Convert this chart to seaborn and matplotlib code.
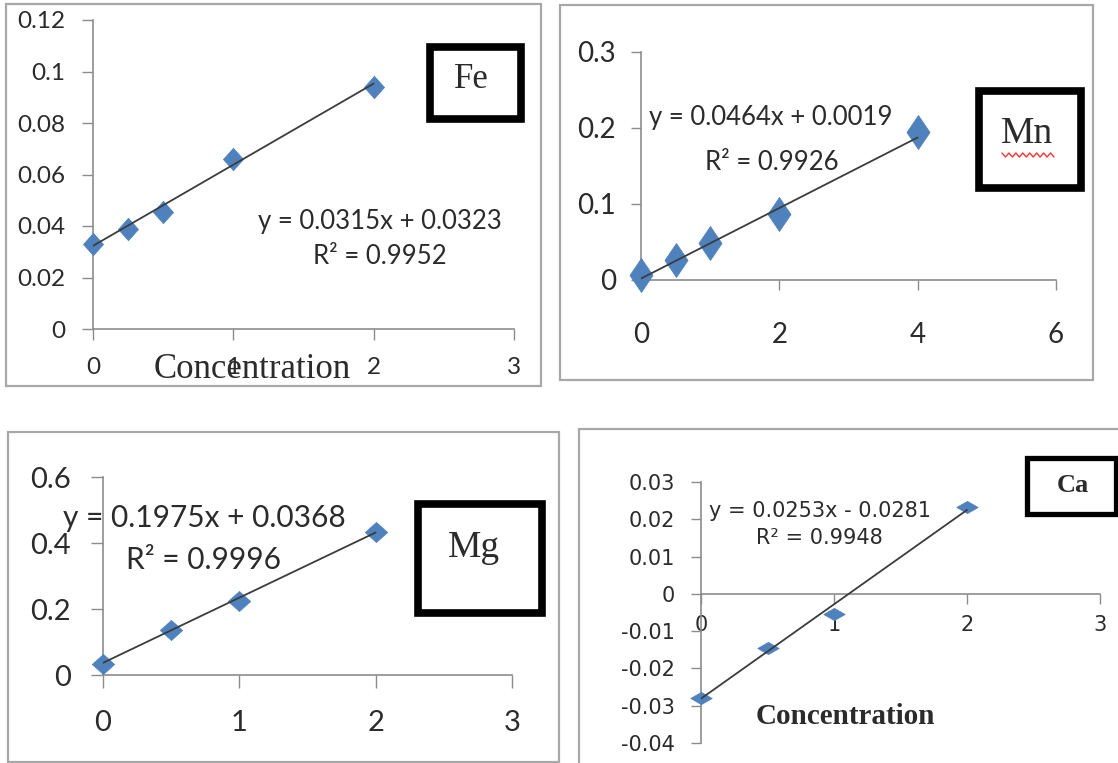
import numpy as np
import matplotlib.pyplot as plt
from matplotlib.patches import Rectangle
from matplotlib.lines import Line2D
import seaborn as sns

# dane (stezenie, absorbancja)
fe_conc = [0, 0.25, 0.5, 1, 2]
fe_abs = [0.033, 0.039, 0.0455, 0.066, 0.094]
mn_conc = [0, 0.5, 1, 2, 4]
mn_abs = [0.006, 0.026, 0.049, 0.087, 0.195]
mg_conc = [0, 0.5, 1, 2]
mg_abs = [0.034, 0.135, 0.224, 0.433]
ca_conc = [0, 0.5, 1, 2]
ca_abs = [-0.028, -0.0146, -0.0053, 0.0233]

# linie trendu: nachylenie, wyraz wolny, R2
fe_fit = (0.0315, 0.0323, 0.9952)
mn_fit = (0.0464, 0.0019, 0.9926)
mg_fit = (0.1975, 0.0368, 0.9996)
ca_fit = (0.0253, -0.0281, 0.9948)

fe_xticks = [0, 1, 2, 3]
fe_yticks = [0, 0.02, 0.04, 0.06, 0.08, 0.1, 0.12]
fe_ylabels = ['0', '0.02', '0.04', '0.06', '0.08', '0.1', '0.12']
mn_xticks = [0, 2, 4, 6]
mn_yticks = [0, 0.1, 0.2, 0.3]
mn_ylabels = ['0', '0.1', '0.2', '0.3']
mg_xticks = [0, 1, 2, 3]
mg_yticks = [0, 0.2, 0.4, 0.6]
mg_ylabels = ['0', '0.2', '0.4', '0.6']
ca_xticks = [0, 1, 2, 3]
ca_yticks = [-0.04, -0.03, -0.02, -0.01, 0, 0.01, 0.02, 0.03]
ca_ylabels = ['-0.04', '-0.03', '-0.02', '-0.01', '0', '0.01', '0.02', '0.03']

BLUE = '#4F81BD'
LINE = '#3c3c3c'
AXIS = '#8c8c8c'
TXT = '#2b2b2b'
W, H = 1118, 763

sns.set_theme(style='white')
plt.rcParams['font.family'] = ['Lato', 'DejaVu Sans']

fig = plt.figure(figsize=(W / 100, H / 100), dpi=100)

SANS = ['Lato', 'DejaVu Sans']
SERIF = ['Liberation Serif', 'DejaVu Serif']


def px_rect(l, t, r, b):
    return [l / W, 1 - b / H, (r - l) / W, (b - t) / H]


def diament(w, h):
    return [(-w, 0), (0, h), (w, 0), (0, -h), (-w, 0)]


def fig_text(x, y, s, **kw):
    fig.text(x / W, 1 - y / H, s, ha='center', va='center', color=TXT, **kw)


def ramka(l, t, r, b, lw, color):
    fig.add_artist(Rectangle((l / W, 1 - b / H), (r - l) / W, (b - t) / H,
                             transform=fig.transFigure, fill=False,
                             edgecolor=color, linewidth=lw, clip_on=False))


def rownanie(fit):
    znak = '+' if fit[1] >= 0 else '-'
    return f'y = {fit[0]:.4f}x {znak} {abs(fit[1]):.4f}', f'R² = {fit[2]:.4f}'


def wykres(rect, x, y, fit, xlim, ylim, xticks, yticks, ylabels, marker, size,
           font, fs, tick_len, ypad, xpad, os_w_zerze=False):
    ax = fig.add_axes(rect)
    ax.set_facecolor('none')
    if os_w_zerze:
        # os X przechodzi przez y = 0 (przed ustawieniem etykiet, bo resetuje ticki)
        ax.spines['bottom'].set_position(('data', 0))
    sns.scatterplot(x=x, y=y, ax=ax, marker=marker, s=size, color=BLUE,
                    edgecolor=BLUE, linewidth=0.5, clip_on=False, zorder=3, legend=False)
    xs = np.array([0, max(x)])
    sns.lineplot(x=xs, y=fit[0] * xs + fit[1], ax=ax, color=LINE, lw=1.3, zorder=4)
    ax.set_xlim(*xlim)
    ax.set_ylim(*ylim)
    ax.set_xticks(xticks, labels=[str(v) for v in xticks], fontfamily=font, fontsize=fs, color=TXT)
    ax.set_yticks(yticks, labels=ylabels, fontfamily=font, fontsize=fs, color=TXT)
    ax.tick_params(axis='y', length=tick_len, width=1, color=AXIS, pad=ypad, left=True)
    ax.tick_params(axis='x', length=tick_len, width=1, color=AXIS, pad=xpad, bottom=True)
    for s in ['top', 'right']:
        ax.spines[s].set_visible(False)
    for s in ['left', 'bottom']:
        ax.spines[s].set_color(AXIS)
        ax.spines[s].set_linewidth(1.2)
    ax.set_xlabel('')
    ax.set_ylabel('')
    ax.grid(False)
    return ax


# ramki wykresow
ramka(6, 4, 541, 386, 1.6, '#a8a8a8')
ramka(560, 5, 1093, 380, 1.6, '#a8a8a8')
ramka(8, 432, 559, 762, 1.6, '#a8a8a8')
ramka(579, 429, 1130, 775, 1.6, '#a8a8a8')

# Fe
wykres(px_rect(93, 20, 514, 329), fe_conc, fe_abs, fe_fit, (0, 3), (0, 0.12),
       fe_xticks, fe_yticks, fe_ylabels, diament(0.9, 1.0), 260,
       SANS, 17.5, 8, 12, 12)
e1, e2 = rownanie(fe_fit)
fig_text(380, 222, e1, fontsize=18.5, family=SANS)
fig_text(380, 257, e2, fontsize=18.5, family=SANS)
fig_text(252, 370, 'Concentration', fontsize=25, family=SERIF)
ramka(430, 47, 521, 119, 5.5, 'black')
fig_text(471, 80, 'Fe', fontsize=25, family=SERIF)

# Mn
wykres(px_rect(641, 52, 1056, 280), mn_conc, mn_abs, mn_fit, (0, 6), (0, 0.3),
       mn_xticks, mn_yticks, mn_ylabels, diament(0.68, 1.0), 600,
       SANS, 20, 7, 11, 23)
e1, e2 = rownanie(mn_fit)
fig_text(771, 117, e1, fontsize=18.5, family=SANS)
fig_text(772, 163, e2, fontsize=18.5, family=SANS)
ramka(979, 91, 1081, 188, 5.5, 'black')
fig_text(1027, 134, 'Mn', fontsize=27, family=SERIF)
zx = np.linspace(1002, 1054, 16)
zy = np.where(np.arange(16) % 2 == 0, 153, 157)
fig.add_artist(Line2D(zx / W, 1 - zy / H, transform=fig.transFigure, color='#ff3030', lw=1))

# Mg
wykres(px_rect(103, 477, 512, 675), mg_conc, mg_abs, mg_fit, (0, 3), (0, 0.6),
       mg_xticks, mg_yticks, mg_ylabels, diament(1.0, 0.9), 260,
       SANS, 21, 9, 14, 16)
e1, e2 = rownanie(mg_fit)
fig_text(204, 518, e1, fontsize=21.5, family=SANS)
fig_text(204, 560, e2, fontsize=21.5, family=SANS)
ramka(418, 504, 542, 613, 5.5, 'black')
fig_text(474, 548, 'Mg', fontsize=27, family=SERIF)

# Ca
wykres(px_rect(701, 482, 1100, 743), ca_conc, ca_abs, ca_fit, (0, 3), (-0.04, 0.03),
       ca_xticks, ca_yticks, ca_ylabels, diament(1.0, 0.57), 240,
       ['DejaVu Sans'], 15, 7, 12, 8, os_w_zerze=True)
e1, e2 = rownanie(ca_fit)
fig_text(820, 511, e1, fontsize=15, family=['DejaVu Sans'])
fig_text(819, 538, e2, fontsize=15, family=['DejaVu Sans'])
fig_text(845, 717, 'Concentration', fontsize=21, fontweight='bold', family=SERIF)
ramka(1027, 458, 1116, 514, 3.8, 'black')
fig_text(1073, 485, 'Ca', fontsize=19, fontweight='bold', family=SERIF)

fig.savefig('out.png', dpi=100)
